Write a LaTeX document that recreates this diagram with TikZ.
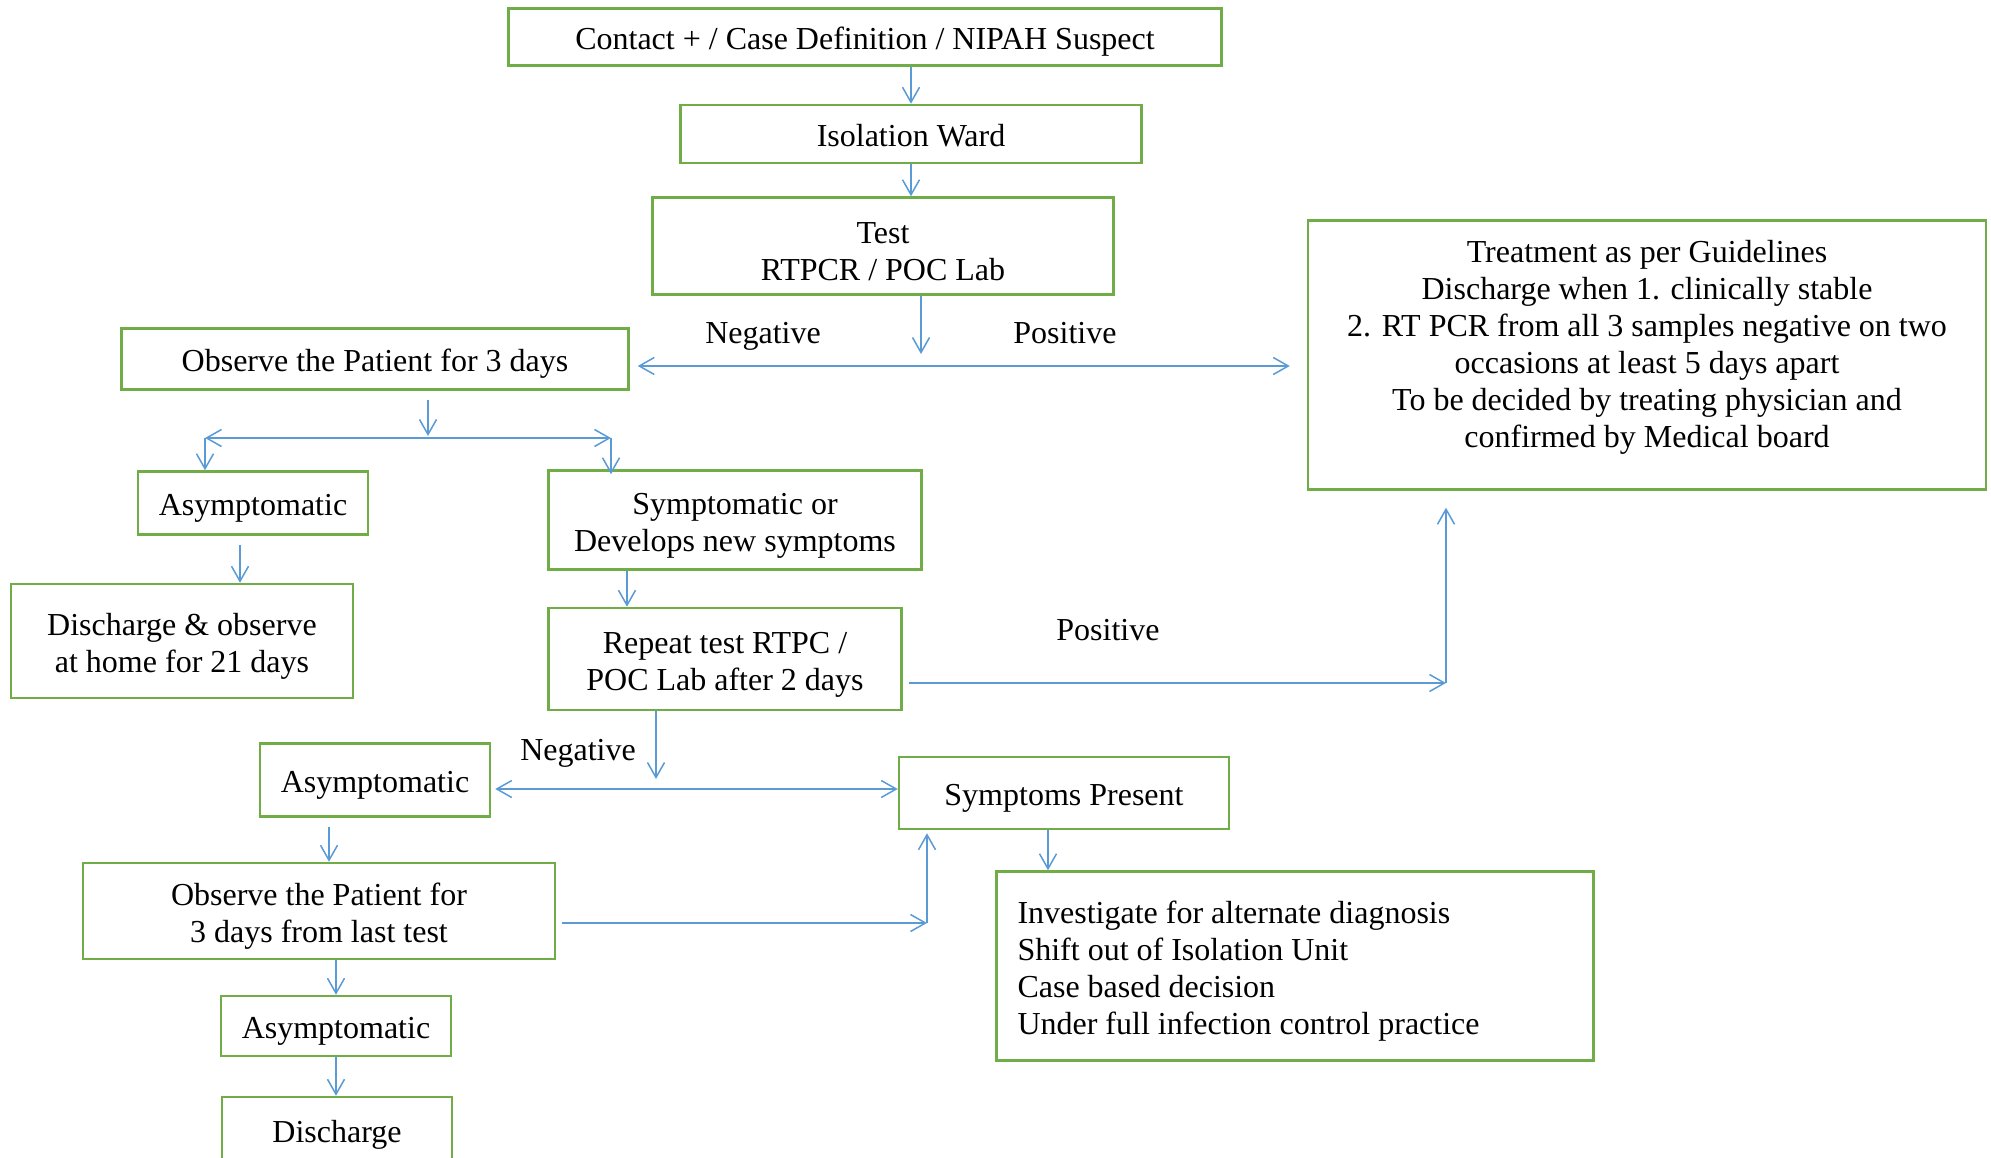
\documentclass[tikz,border=0pt]{standalone}
\usepackage{fontspec}
\setmainfont{Liberation Serif}
\usetikzlibrary{arrows.meta}
\definecolor{boxgreen}{HTML}{70AD47}
\definecolor{arrowblue}{HTML}{5B9BD5}

\begin{document}
\begin{tikzpicture}[
    x=1pt, y=-1pt,
    >={Straight Barb[length=15pt, width=17pt]},
    box/.style={rectangle, draw=boxgreen, line width=2.5pt, inner sep=0pt, align=flush center, font=\fontsize{32}{37}\selectfont, execute at begin node={\rule[-7pt]{0pt}{39pt}}},
    lbl/.style={font=\fontsize{32}{37}\selectfont, align=center},
    arr/.style={draw=arrowblue, line width=1.5pt}
]
    \useasboundingbox (0,0) rectangle (1991,1158);

    % Ingresso e test
    \node[box, minimum width=713pt, minimum height=57pt] (contact) at (865,37) {Contact + / Case Definition / NIPAH Suspect};
    \node[box, minimum width=461pt, minimum height=58pt] (ward) at (911,134) {Isolation Ward};
    \node[box, text width=461pt, minimum height=97pt] (test) at (883,246) {Test\\RTPCR / POC Lab};
    \node[box, minimum width=678pt, minimum height=269pt] (treat) at (1647,355) {};
    \node[lbl] (treattext) at (1647,347) {Treatment as per Guidelines\\Discharge when 1. clinically stable\\2. RT PCR from all 3 samples negative on two\\occasions at least 5 days apart\\To be decided by treating physician and\\confirmed by Medical board};
    \node[lbl] (neg1) at (763,336) {Negative};
    \node[lbl] (pos1) at (1065,333) {Positive};

    % Osservazione 3 giorni
    \node[box, minimum width=507pt, minimum height=61pt] (obs) at (375,359) {Observe the Patient for 3 days};
    \node[box, minimum width=230pt, minimum height=63pt] (asym) at (253,503) {Asymptomatic};
    \node[box, text width=373pt, minimum height=99pt] (symp) at (735,520) {Symptomatic or\\Develops new symptoms};
    \node[box, text width=342pt, minimum height=114pt] (dishome) at (182,641) {Discharge \& observe\\at home for 21 days};
    \node[box, text width=353pt, minimum height=102pt] (repeat) at (725,659) {Repeat test RTPC /\\POC Lab after 2 days};
    \node[lbl] (pos2) at (1108,630) {Positive};
    \node[lbl] (neg2) at (578,753) {Negative};

    % Secondo test
    \node[box, minimum width=230pt, minimum height=73pt] (asymb) at (375,780) {Asymptomatic};
    \node[box, minimum width=330pt, minimum height=72pt] (sympres) at (1064,793) {Symptoms Present};
    \node[box, text width=472pt, minimum height=96pt] (obsb) at (319,911) {Observe the Patient for\\3 days from last test};
    \node[box, align=flush left, text width=555pt, inner xsep=21pt, minimum height=189pt] (invest) at (1295,966) {Investigate for alternate diagnosis\\Shift out of Isolation Unit\\Case based decision\\Under full infection control practice};
    \node[box, minimum width=230pt, minimum height=60pt] (asymc) at (336,1026) {Asymptomatic};
    \node[box, minimum width=230pt, minimum height=66pt] (discharge) at (337,1130) {Discharge};

    % Punti di snodo
    \coordinate (testdown) at (921,354);
    \coordinate (testsplit) at (921,366);
    \coordinate (obsdown) at (428,436);
    \coordinate (obsl) at (205,438);
    \coordinate (obsr) at (611,438);
    \coordinate (repdown) at (656,779);
    \coordinate (repsplit) at (656,789);
    \coordinate (poscorner) at (1446,683);
    \coordinate (obscorner) at (927,923);

    % Frecce
    \draw[arr, ->] (ward.north |- contact.south) -- (ward.north);
    \draw[arr, ->] (ward.south) -- (ward.south |- test.north);
    \draw[arr, ->] (test.south -| testdown) -- (testdown);
    \draw[arr, <->, shorten <=8pt, shorten >=17pt] (obs.east |- testsplit) -- (treat.west |- testsplit);

    \draw[arr, ->, shorten <=9pt] (obs.south -| obsdown) -- (obsdown);
    \draw[arr, <->] (obsl) -- (obsr);
    \draw[arr, ->] (obsl) -- (asym.north -| obsl);
    \draw[arr, ->] (obsr) -- ([yshift=-5pt]symp.north -| obsr);
    \draw[arr, ->, shorten <=9pt] ([xshift=-13pt]asym.south) -- ([xshift=-13pt]asym.south |- dishome.north);
    \draw[arr, ->] ([xshift=-108pt]symp.south) -- ([xshift=-108pt]symp.south |- repeat.north);

    \draw[arr, ->] (repeat.south -| repdown) -- (repdown);
    \draw[arr, <->, shorten <=4pt] (asymb.east |- repsplit) -- (sympres.west |- repsplit);
    \draw[arr, ->, shorten <=6pt] (repeat.east |- poscorner) -- (poscorner);
    \draw[arr, ->, shorten >=17pt] (poscorner) -- (treat.south -| poscorner);

    \draw[arr, ->, shorten <=9pt] ([xshift=-46pt]asymb.south) -- ([xshift=-46pt]asymb.south |- obsb.north);
    \draw[arr, ->, shorten <=6pt] (obsb.east |- obscorner) -- (obscorner);
    \draw[arr, ->, shorten >=3pt] (obscorner) -- (sympres.south -| obscorner);
    \draw[arr, ->] ([xshift=-16pt]sympres.south) -- ([xshift=-16pt]sympres.south |- invest.north);
    \draw[arr, ->] (obsb.south -| asymc.north) -- (asymc.north);
    \draw[arr, ->] (asymc.south) -- (asymc.south |- discharge.north);
\end{tikzpicture}
\end{document}
